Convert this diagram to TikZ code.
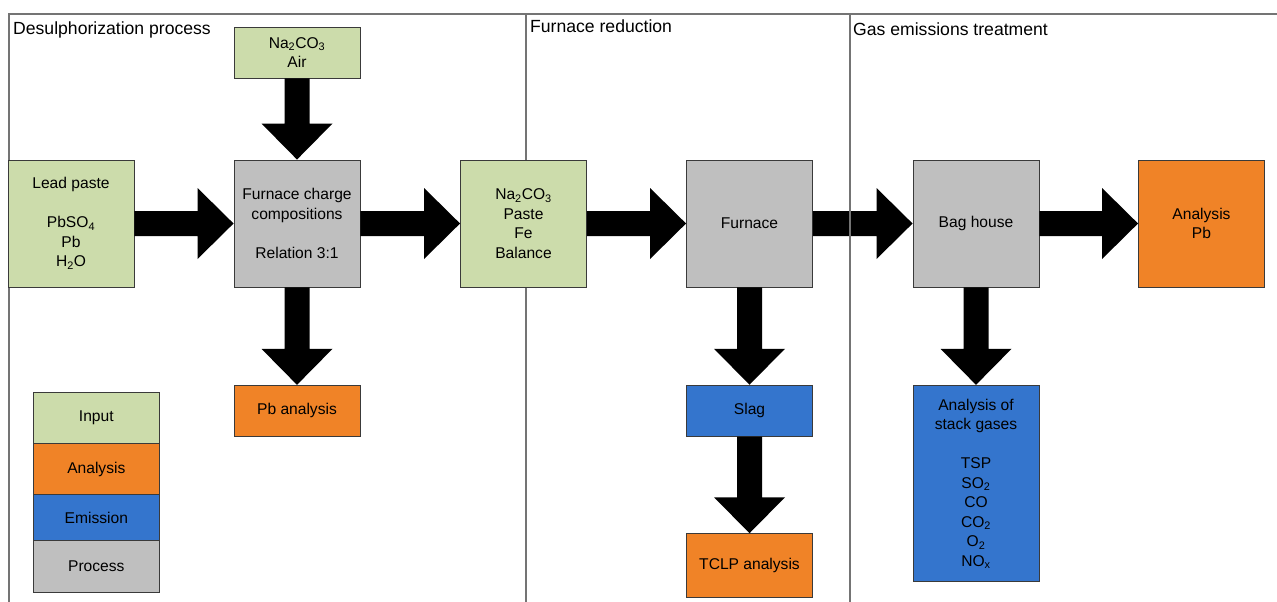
\documentclass[tikz,border=0pt]{standalone}
\usepackage{fontspec}
\setmainfont{Liberation Sans}
\usetikzlibrary{calc}
\definecolor{cinput}{HTML}{CCDCAB}
\definecolor{canal}{HTML}{F08327}
\definecolor{cemis}{HTML}{3475CD}
\definecolor{cproc}{HTML}{BFBFBF}
\definecolor{cframe}{HTML}{747474}
\definecolor{cedge}{HTML}{3A3A3A}
\newcommand{\hblockarrow}[2]{%
  \fill[black] ($(#1.east)+(0,-12.5)$) -- ($(#2.west)+(-36,-12.5)$) -- ($(#2.west)+(-36,-35.5)$) -- (#2.west) -- ($(#2.west)+(-36,35.5)$) -- ($(#2.west)+(-36,12.5)$) -- ($(#1.east)+(0,12.5)$) -- cycle;}
\newcommand{\vblockarrow}[2]{%
  \fill[black] ($(#1.south)+(-12.5,0)$) -- ($(#2.north)+(-12.5,-36)$) -- ($(#2.north)+(-35.5,-36)$) -- (#2.north) -- ($(#2.north)+(35.5,-36)$) -- ($(#2.north)+(12.5,-36)$) -- ($(#1.south)+(12.5,0)$) -- cycle;}
\newcommand{\sub}[1]{\textsubscript{#1}}
\begin{document}
\begin{tikzpicture}[x=1pt,y=-1pt,
  every node/.style={font=\fontsize{15.6}{19.5}\selectfont, text=black},
  box/.style={draw=cedge, line width=0.9pt, align=center, inner sep=0pt, minimum width=126pt},
  title/.style={anchor=base west, inner sep=0pt, font=\fontsize{17.6}{21}\selectfont},
  frameline/.style={draw=cframe, line width=1.1pt}]
\useasboundingbox (0,0) rectangle (1277,602);
% section frames
\draw[frameline] (9,602) -- (9,14) -- (1277,14);
\draw[frameline] (526,14) -- (526,602);
\draw[frameline] (850,14) -- (850,602);
% titles
\node[title] (t1) at (13,34.3) {Desulphorization process};
\node[title] (t2) at (530,32.7) {Furnace reduction};
\node[title] (t3) at (853,35.5) {Gas emissions treatment};
% boxes
\node[box, fill=cinput, minimum height=51pt] (air) at (297,52.5) {Na\sub{2}CO\sub{3}\\Air};
\node[box, fill=cinput, minimum height=127pt] (lead) at (71,223.5) {Lead paste\\[19.5pt]PbSO\sub{4}\\Pb\\H\sub{2}O};
\node[box, fill=cproc, minimum height=127pt] (charge) at (297,223.5) {Furnace charge\\compositions\\[19.5pt]Relation 3:1};
\node[box, fill=cinput, minimum height=127pt] (mix) at (523.5,223.5) {Na\sub{2}CO\sub{3}\\Paste\\Fe\\Balance};
\node[box, fill=cproc, minimum height=127pt] (furnace) at (749.5,223.5) {Furnace};
\node[box, fill=cproc, minimum height=127pt] (bag) at (976,223.5) {Bag house};
\node[box, fill=canal, minimum height=127pt] (anpb) at (1201.5,223.5) {Analysis\\Pb};
\node[box, fill=canal, minimum height=51pt] (pban) at (297,410.8) {Pb analysis};
\node[box, fill=cemis, minimum height=51pt] (slag) at (749.5,410.7) {Slag};
\node[box, fill=canal, minimum height=63.6pt] (tclp) at (749.5,565.5) {TCLP analysis};
\node[box, fill=cemis, minimum height=196.4pt] (stack) at (976,483.5) {Analysis of\\stack gases\\[19.5pt]TSP\\SO\sub{2}\\CO\\CO\sub{2}\\O\sub{2}\\NO\sub{x}};
% legend
\node[box, fill=cinput, minimum height=51.4pt] (lin) at (96.3,418) {Input};
\node[box, fill=canal, minimum height=51pt] (lan) at (96.3,469.2) {Analysis};
\node[box, fill=cemis, minimum height=46pt] (lem) at (96.3,517.7) {Emission};
\node[box, fill=cproc, minimum height=51.3pt] (lpr) at (96.3,566.3) {Process};
% block arrows
\vblockarrow{air}{charge}
\hblockarrow{lead}{charge}
\hblockarrow{charge}{mix}
\vblockarrow{charge}{pban}
\hblockarrow{mix}{furnace}
\hblockarrow{furnace}{bag}
\vblockarrow{furnace}{slag}
\vblockarrow{slag}{tclp}
\hblockarrow{bag}{anpb}
\vblockarrow{bag}{stack}
% frame line visible over the arrow shaft
\draw[frameline] (850,205) -- (850,242);
\end{tikzpicture}
\end{document}
